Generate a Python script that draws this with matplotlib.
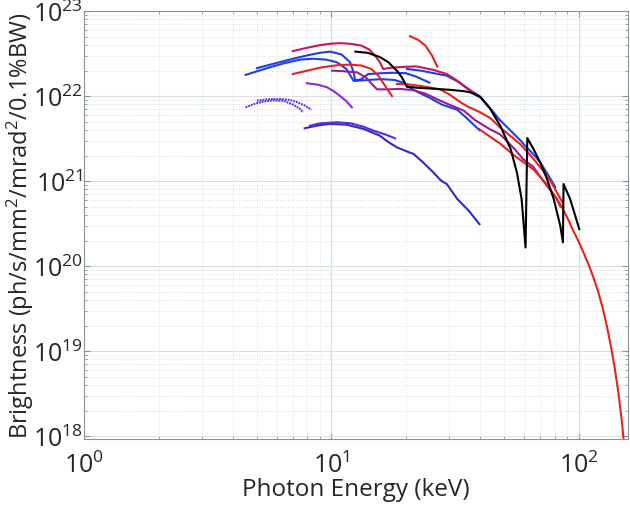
import matplotlib
matplotlib.use("Agg")
import matplotlib.pyplot as plt
import numpy as np

plt.rcParams['font.family'] = ['Open Sans', 'DejaVu Sans']
plt.rcParams['mathtext.fontset'] = 'custom'
plt.rcParams['mathtext.rm'] = 'Open Sans'
plt.rcParams['mathtext.it'] = 'Open Sans:italic'
plt.rcParams['mathtext.bf'] = 'Open Sans:bold'

# ---- data (energy keV, log10 brightness) ----
crimson_E = [6.98, 8.0, 9.0, 10.0, 10.94, 12.0, 13.2, 14.2, 15.0, 15.7, 16.2,
             17.5, 19.9, 22.0, 25.8, 29.3, 32.0, 35.0, 37.5, 39.7]
crimson_logB = [22.529, 22.57, 22.60, 22.618, 22.623, 22.615, 22.595, 22.55, 22.48, 22.40, 22.32,
                22.335, 22.345, 22.35, 22.31, 22.26, 22.19, 22.10, 22.04, 21.99]

blueA_E = [5.0, 6.0, 7.0, 8.0, 9.0, 9.9, 11.0, 11.9, 12.3, 12.5, 14.0, 16.0, 18.0,
           19.5, 21.0, 23.0, 25.0, 28.0, 32.3, 35.0, 39.7]
blueA_logB = [22.33, 22.39, 22.44, 22.48, 22.51, 22.524, 22.49, 22.40, 22.28, 22.18, 22.19, 22.20, 22.19,
              22.16, 22.09, 22.03, 21.98, 21.90, 21.84, 21.75, 21.60]

blueB_E = [4.5, 5.5, 6.5, 7.5, 8.4, 9.5, 10.5, 11.5, 12.3, 13.2, 14.1, 16.0, 18.0, 20.0, 22.0, 24.9]
blueB_logB = [22.25, 22.33, 22.39, 22.43, 22.44, 22.43, 22.40, 22.32, 22.18, 22.20, 22.26, 22.27,
              22.275, 22.27, 22.23, 22.16]

blueC_E = [20.2, 23.0, 26.0, 29.3, 33.0, 36.0, 39.8, 43.0, 48.0, 52.0, 59.0, 60.5, 65.0, 70.0, 75.0, 80.5]
blueC_logB = [22.32, 22.30, 22.27, 22.24, 22.16, 22.08, 22.00, 21.89, 21.72, 21.62, 21.46, 21.42,
              21.33, 21.22, 21.08, 20.93]

red1_E = [6.98, 8.0, 9.0, 10.0, 10.94, 12.0, 13.2, 14.5, 15.5, 16.5, 17.6]
red1_logB = [22.26, 22.30, 22.335, 22.355, 22.368, 22.37, 22.36, 22.32, 22.24, 22.12, 22.0]

red3_E = [18.4, 20.2, 23.0, 27.5, 30.0, 33.2, 36.0, 40.0, 44.0, 48.2, 52.0, 57.8, 64.0, 71.5, 77.0,
          81.6, 86.0]
red3_logB = [22.144, 22.14, 22.12, 22.08, 22.02, 21.93, 21.87, 21.81, 21.74, 21.63, 21.55, 21.44,
             21.30, 21.13, 21.0, 20.87, 20.75]

redTop_E = [20.8, 22.5, 24.0, 25.5, 26.8]
redTop_logB = [22.705, 22.66, 22.595, 22.48, 22.348]

redLong_E = [39.7, 44.0, 48.2, 55.0, 65.5, 75.0, 84.6, 90.0, 95.0, 100.0, 105.0, 110.0, 115.0,
             120.0, 125.0, 130.0, 135.0, 140.0, 145.0, 150.0, 152.0]
redLong_logB = [21.61, 21.52, 21.44, 21.30, 21.14, 20.95, 20.72, 20.57, 20.42, 20.29, 20.15, 20.01,
                19.86, 19.70, 19.51, 19.30, 19.06, 18.80, 18.50, 18.14, 17.96]

purple_E = [10.07, 11.0, 12.7, 13.8, 14.6, 15.3, 17.0, 19.0, 21.4, 24.0, 26.5, 29.4, 34.3, 38.0,
            43.8, 48.2, 55.0, 59.6, 65.5, 72.0, 77.0, 81.7, 84.4]
purple_logB = [22.30, 22.295, 22.28, 22.22, 22.14, 22.08, 22.08, 22.085, 22.07, 22.03, 21.97, 21.91,
               21.83, 21.72, 21.61, 21.55, 21.38, 21.26, 21.17, 21.0, 20.89, 20.79, 20.70]

black_E = [12.5, 14.0, 15.7, 17.0, 17.8, 18.4, 19.3, 20.2, 22.0, 25.0, 30.0, 34.0, 36.4, 40.0,
           43.9, 48.2, 53.1, 56.3, 58.8, 61.0, 62.0, 65.7, 69.9, 74.5, 79.3, 84.3, 86.4, 86.9,
           92.4, 100.6]
black_logB = [22.524, 22.51, 22.46, 22.40, 22.34, 22.30, 22.22, 22.11, 22.10, 22.09, 22.075,
              22.06, 22.046, 21.99, 21.85, 21.652, 21.378, 21.10, 20.79, 20.22, 21.507, 21.378,
              21.22, 21.025, 20.79, 20.475, 20.28, 20.966, 20.79, 20.436]

violet_E = [7.96, 8.8, 9.6, 10.2, 10.8, 11.5, 12.1]
violet_logB = [22.152, 22.135, 22.105, 22.06, 22.006, 21.94, 21.869]

dotA_E = [4.5, 4.9, 5.3, 5.8, 6.4, 7.0, 7.4, 7.7]
dotA_logB = [21.869, 21.91, 21.935, 21.95, 21.945, 21.90, 21.86, 21.81]

dotB_E = [5.0, 5.5, 6.2, 6.8, 7.25, 7.8, 8.3]
dotB_logB = [21.947, 21.962, 21.967, 21.955, 21.93, 21.89, 21.84]

lowP_E = [8.2, 9.0, 10.5, 12.0, 13.5, 14.8, 16.5, 18.1]
lowP_logB = [21.653, 21.68, 21.693, 21.68, 21.64, 21.594, 21.55, 21.504]

lowB_E = [7.8, 8.8, 9.85, 11.5, 13.5, 15.7, 17.0, 18.4, 20.6, 21.5, 23.5, 25.9, 27.8, 29.3, 32.3,
          36.0, 39.7]
lowB_logB = [21.622, 21.655, 21.673, 21.665, 21.614, 21.535, 21.46, 21.398, 21.34, 21.32, 21.22,
             21.10, 21.005, 20.966, 20.79, 20.65, 20.494]

x_ticks = [1, 10, 100]
y_ticks = [1e18, 1e19, 1e20, 1e21, 1e22, 1e23]

series = [
    (dotA_E, dotA_logB, '#5533dd', (0, (0.9, 0.45))),
    (dotB_E, dotB_logB, '#5533dd', (0, (0.9, 0.45))),
    (lowB_E, lowB_logB, '#2b2bcf', '-'),
    (lowP_E, lowP_logB, '#5a2edc', '-'),
    (violet_E, violet_logB, '#8a2be2', '-'),
    (blueB_E, blueB_logB, '#1f3fe6', '-'),
    (blueA_E, blueA_logB, '#1f3fe6', '-'),
    (blueC_E, blueC_logB, '#1f3fe6', '-'),
    (purple_E, purple_logB, '#9c1c92', '-'),
    (red1_E, red1_logB, '#e8231c', '-'),
    (red3_E, red3_logB, '#e8231c', '-'),
    (redLong_E, redLong_logB, '#e8231c', '-'),
    (redTop_E, redTop_logB, '#e8231c', '-'),
    (crimson_E, crimson_logB, '#c8145a', '-'),
    (black_E, black_logB, '#000000', '-'),
]

fig = plt.figure(figsize=(6.3, 5.06), dpi=100)
ax = fig.add_axes([0.1335, 0.130, 0.864, 0.846])

for E, lb, c, ls in series:
    ax.plot(E, 10 ** np.array(lb), color=c, lw=1.5, ls=ls)

ax.set_xscale('log')
ax.set_yscale('log')
ax.set_xlim(1, 159)
ax.set_ylim(0.92e18, 1e23)
ax.set_xticks(x_ticks)
ax.set_yticks(y_ticks)

ax.grid(True, which='major', color='#d6e0e0', lw=0.8, ls='-')
ax.grid(True, which='minor', color='#d6e0e0', lw=0.7, ls=':')
ax.set_axisbelow(True)

for s in ax.spines.values():
    s.set_color('#8a9595')
    s.set_linewidth(0.8)
ax.tick_params(which='both', direction='in', top=True, right=True, colors='#8a9595',
               labelcolor='#262626', labelsize=18)
ax.tick_params(which='major', length=4)
ax.tick_params(which='minor', length=2.5)
ax.tick_params(axis='x', pad=9)
ax.tick_params(axis='y', pad=1)

ax.set_xlabel('Photon Energy (keV)', fontsize=17.5, color='#262626', labelpad=-1)
ax.set_ylabel('Brightness (ph/s/mm$^2$/mrad$^2$/0.1%BW)', fontsize=17, color='#262626', labelpad=-2)

fig.savefig('out.png', dpi=100)
